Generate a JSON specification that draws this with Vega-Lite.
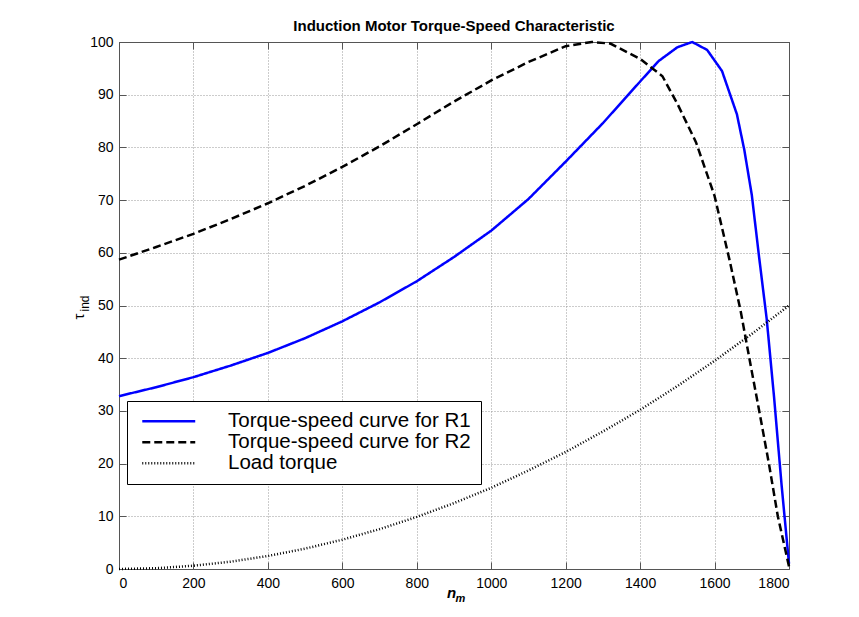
{
  "$schema": "https://vega.github.io/schema/vega-lite/v6.json",
  "width": 670,
  "height": 527,
  "autosize": {"type": "none"},
  "padding": {"left": 119, "top": 42, "right": 70, "bottom": 48},
  "background": "white",
  "title": {"text": "Induction Motor Torque-Speed Characteristic", "fontSize": 15, "fontWeight": "bold", "font": "Liberation Sans", "color": "black", "offset": 1, "anchor": "middle"},
  "config": {
    "view": {"stroke": null},
    "font": "Liberation Sans",
    "axis": {"labelFont": "Liberation Sans", "labelFontSize": 14, "labelColor": "black", "domainColor": "#555555", "tickColor": "#555555", "titleColor": "black", "titleFont": "Liberation Sans"}
  },
  "data": {"values": [
    {"s": "Torque-speed curve for R1", "n": 0, "T": 32.8},
    {"s": "Torque-speed curve for R1", "n": 100, "T": 34.5},
    {"s": "Torque-speed curve for R1", "n": 200, "T": 36.4},
    {"s": "Torque-speed curve for R1", "n": 300, "T": 38.6},
    {"s": "Torque-speed curve for R1", "n": 400, "T": 41.0},
    {"s": "Torque-speed curve for R1", "n": 500, "T": 43.8},
    {"s": "Torque-speed curve for R1", "n": 600, "T": 47.0},
    {"s": "Torque-speed curve for R1", "n": 700, "T": 50.6},
    {"s": "Torque-speed curve for R1", "n": 800, "T": 54.6},
    {"s": "Torque-speed curve for R1", "n": 900, "T": 59.2},
    {"s": "Torque-speed curve for R1", "n": 1000, "T": 64.2},
    {"s": "Torque-speed curve for R1", "n": 1100, "T": 70.2},
    {"s": "Torque-speed curve for R1", "n": 1200, "T": 77.3},
    {"s": "Torque-speed curve for R1", "n": 1300, "T": 84.6},
    {"s": "Torque-speed curve for R1", "n": 1400, "T": 92.5},
    {"s": "Torque-speed curve for R1", "n": 1450, "T": 96.4},
    {"s": "Torque-speed curve for R1", "n": 1500, "T": 99.0},
    {"s": "Torque-speed curve for R1", "n": 1540, "T": 100},
    {"s": "Torque-speed curve for R1", "n": 1580, "T": 98.5},
    {"s": "Torque-speed curve for R1", "n": 1620, "T": 94.5},
    {"s": "Torque-speed curve for R1", "n": 1660, "T": 86.3},
    {"s": "Torque-speed curve for R1", "n": 1680, "T": 79.5},
    {"s": "Torque-speed curve for R1", "n": 1700, "T": 71},
    {"s": "Torque-speed curve for R1", "n": 1720, "T": 59},
    {"s": "Torque-speed curve for R1", "n": 1740, "T": 47.5},
    {"s": "Torque-speed curve for R1", "n": 1760, "T": 32.5},
    {"s": "Torque-speed curve for R1", "n": 1780, "T": 16},
    {"s": "Torque-speed curve for R1", "n": 1800, "T": 1},
    {"s": "Torque-speed curve for R2", "n": 0, "T": 58.7},
    {"s": "Torque-speed curve for R2", "n": 100, "T": 61.1},
    {"s": "Torque-speed curve for R2", "n": 200, "T": 63.6},
    {"s": "Torque-speed curve for R2", "n": 300, "T": 66.4},
    {"s": "Torque-speed curve for R2", "n": 400, "T": 69.4},
    {"s": "Torque-speed curve for R2", "n": 500, "T": 72.7},
    {"s": "Torque-speed curve for R2", "n": 600, "T": 76.3},
    {"s": "Torque-speed curve for R2", "n": 700, "T": 80.2},
    {"s": "Torque-speed curve for R2", "n": 800, "T": 84.4},
    {"s": "Torque-speed curve for R2", "n": 900, "T": 88.7},
    {"s": "Torque-speed curve for R2", "n": 1000, "T": 92.7},
    {"s": "Torque-speed curve for R2", "n": 1100, "T": 96.2},
    {"s": "Torque-speed curve for R2", "n": 1200, "T": 99.2},
    {"s": "Torque-speed curve for R2", "n": 1270, "T": 100},
    {"s": "Torque-speed curve for R2", "n": 1320, "T": 99.7},
    {"s": "Torque-speed curve for R2", "n": 1400, "T": 96.8},
    {"s": "Torque-speed curve for R2", "n": 1460, "T": 93.5},
    {"s": "Torque-speed curve for R2", "n": 1500, "T": 88.3},
    {"s": "Torque-speed curve for R2", "n": 1550, "T": 81},
    {"s": "Torque-speed curve for R2", "n": 1600, "T": 70.8},
    {"s": "Torque-speed curve for R2", "n": 1640, "T": 58.7},
    {"s": "Torque-speed curve for R2", "n": 1670, "T": 49},
    {"s": "Torque-speed curve for R2", "n": 1700, "T": 37.5},
    {"s": "Torque-speed curve for R2", "n": 1720, "T": 30},
    {"s": "Torque-speed curve for R2", "n": 1746, "T": 20},
    {"s": "Torque-speed curve for R2", "n": 1770, "T": 10},
    {"s": "Torque-speed curve for R2", "n": 1800, "T": 0.5},
    {"s": "Load torque", "n": 0, "T": 0},
    {"s": "Load torque", "n": 100, "T": 0.15},
    {"s": "Load torque", "n": 200, "T": 0.62},
    {"s": "Load torque", "n": 300, "T": 1.39},
    {"s": "Load torque", "n": 400, "T": 2.47},
    {"s": "Load torque", "n": 500, "T": 3.86},
    {"s": "Load torque", "n": 600, "T": 5.56},
    {"s": "Load torque", "n": 700, "T": 7.56},
    {"s": "Load torque", "n": 800, "T": 9.88},
    {"s": "Load torque", "n": 900, "T": 12.5},
    {"s": "Load torque", "n": 1000, "T": 15.4},
    {"s": "Load torque", "n": 1100, "T": 18.7},
    {"s": "Load torque", "n": 1200, "T": 22.2},
    {"s": "Load torque", "n": 1300, "T": 26.1},
    {"s": "Load torque", "n": 1400, "T": 30.2},
    {"s": "Load torque", "n": 1500, "T": 34.7},
    {"s": "Load torque", "n": 1600, "T": 39.5},
    {"s": "Load torque", "n": 1700, "T": 44.6},
    {"s": "Load torque", "n": 1800, "T": 50}
  ]},
  "layer": [
    {
      "mark": {"type": "line", "strokeCap": "butt"},
      "encoding": {
        "x": {"field": "n", "type": "quantitative", "scale": {"domain": [0, 1800], "nice": false, "zero": false},
          "axis": {"orient": "bottom", "values": [0, 200, 400, 600, 800, 1000, 1200, 1400, 1600, 1800], "format": "d", "grid": true, "gridDash": [1, 2], "gridColor": "#999999", "tickSize": -7, "labelPadding": 14, "title": "n", "titleFontSize": 15, "titleFontStyle": "italic", "titleFontWeight": "bold", "titleX": 332, "titleY": 28, "titleAlign": "center", "titleBaseline": "alphabetic"}},
        "y": {"field": "T", "type": "quantitative", "scale": {"domain": [0, 100], "nice": false},
          "axis": {"orient": "left", "values": [0, 10, 20, 30, 40, 50, 60, 70, 80, 90, 100], "format": "d", "grid": true, "gridDash": [1, 2], "gridColor": "#999999", "tickSize": -7, "labelPadding": 13, "title": "τ", "titleFontSize": 15, "titleFontWeight": "normal", "titleX": -36, "titleY": 274, "titleAngle": -90, "titleAlign": "center", "titleBaseline": "alphabetic"}},
        "color": {"field": "s", "type": "nominal", "sort": ["Torque-speed curve for R1", "Torque-speed curve for R2", "Load torque"],
          "scale": {"domain": ["Torque-speed curve for R1", "Torque-speed curve for R2", "Load torque"], "range": ["#0000ff", "#000000", "#000000"]},
          "legend": {"orient": "none", "legendX": 8, "legendY": 359, "title": null, "labelFontSize": 20.5, "labelColor": "black", "symbolType": "M-3.31,0H3.31", "symbolSize": 256, "symbolStrokeWidth": 2, "symbolOffset": 21.5, "labelOffset": 49, "padding": 10, "rowPadding": 0, "strokeColor": "black", "fillColor": "white", "cornerRadius": 0, "labelLimit": 400}},
        "strokeDash": {"field": "s", "type": "nominal", "sort": ["Torque-speed curve for R1", "Torque-speed curve for R2", "Load torque"],
          "scale": {"domain": ["Torque-speed curve for R1", "Torque-speed curve for R2", "Load torque"], "range": [[1, 0], [8, 4], [1, 2]]},
          "legend": {"orient": "none", "legendX": 8, "legendY": 359, "title": null, "labelFontSize": 20.5, "labelColor": "black", "symbolType": "M-3.31,0H3.31", "symbolSize": 256, "symbolStrokeWidth": 2, "symbolOffset": 21.5, "labelOffset": 49, "padding": 10, "rowPadding": 0, "strokeColor": "black", "fillColor": "white", "cornerRadius": 0, "labelLimit": 400}},
        "strokeWidth": {"field": "s", "type": "nominal",
          "scale": {"domain": ["Torque-speed curve for R1", "Torque-speed curve for R2", "Load torque"], "range": [2.5, 2.5, 1.2]}, "legend": null}
      }
    },
    {
      "mark": {"type": "line", "opacity": 0},
      "encoding": {
        "x": {"field": "n", "type": "quantitative", "scale": {"domain": [0, 1800], "nice": false, "zero": false},
          "axis": {"orient": "top", "values": [0, 200, 400, 600, 800, 1000, 1200, 1400, 1600, 1800], "labels": false, "grid": false, "tickSize": -7, "title": null}},
        "y": {"field": "T", "type": "quantitative", "scale": {"domain": [0, 100], "nice": false},
          "axis": {"orient": "right", "values": [0, 10, 20, 30, 40, 50, 60, 70, 80, 90, 100], "labels": false, "grid": false, "tickSize": -7, "title": null}}
      }
    },
    {
      "mark": {"type": "line", "opacity": 0},
      "encoding": {
        "x": {"field": "n", "type": "quantitative", "scale": {"domain": [0, 1800], "nice": false, "zero": false},
          "axis": {"orient": "bottom", "labels": false, "ticks": false, "domain": false, "grid": false, "title": "m", "titleFontSize": 11, "titleFontStyle": "italic", "titleFontWeight": "bold", "titleX": 341, "titleY": 32, "titleAlign": "center", "titleBaseline": "alphabetic"}},
        "y": {"field": "T", "type": "quantitative", "scale": {"domain": [0, 100], "nice": false},
          "axis": {"orient": "left", "labels": false, "ticks": false, "domain": false, "grid": false, "title": "ind", "titleFontSize": 12, "titleFontWeight": "normal", "titleX": -31, "titleY": 261, "titleAngle": -90, "titleAlign": "center", "titleBaseline": "alphabetic"}}
      }
    }
  ],
  "resolve": {"axis": {"x": "independent", "y": "independent"}}
}
